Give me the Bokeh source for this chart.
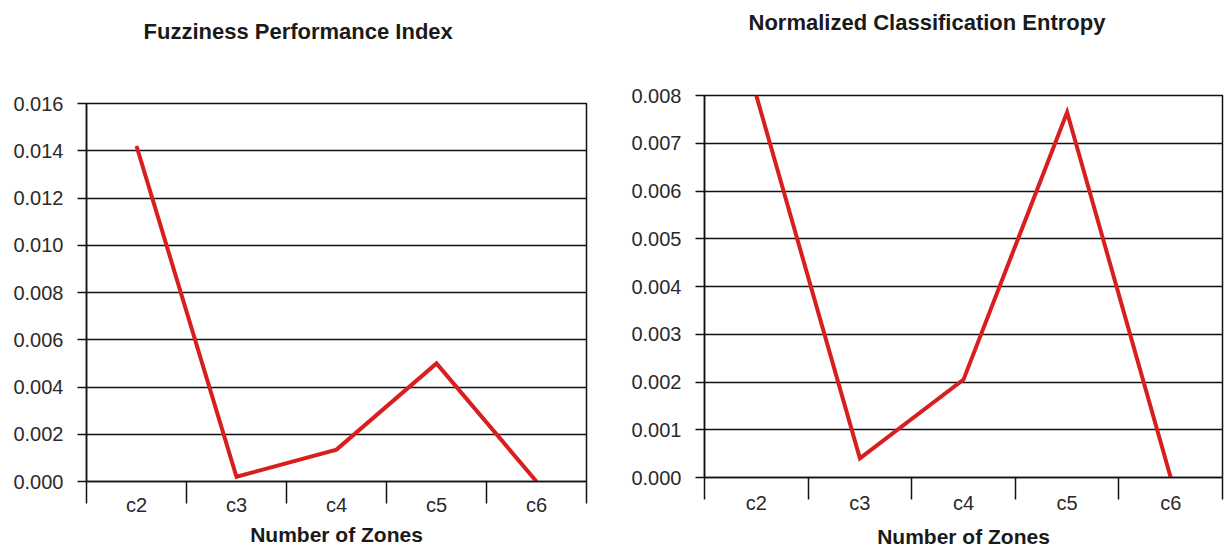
from bokeh.plotting import figure
from bokeh.models import FixedTicker, Range1d, PrintfTickFormatter, Title
from bokeh.embed import file_html
from bokeh.resources import INLINE

# ---- data ----
zones = ["c2", "c3", "c4", "c5", "c6"]
fpi_values = [0.0142, 0.0002, 0.00135, 0.0050, 0.0]
nce_values = [0.0080, 0.0004, 0.00205, 0.00765, 0.0]
fpi_ticks = [0.000, 0.002, 0.004, 0.006, 0.008, 0.010, 0.012, 0.014, 0.016]
nce_ticks = [0.000, 0.001, 0.002, 0.003, 0.004, 0.005, 0.006, 0.007, 0.008]
fpi_title = "Fuzziness Performance Index"
nce_title = "Normalized Classification Entropy"
x_title = "Number of Zones"

FONT = "Liberation Sans"
RED = "#d81e1e"
INK = "#111111"


def make_chart(title, values, yticks, width, height, mb_left, mb_right,
               mb_top, mb_bottom, title_offset, title_gap, xlab_standoff,
               xtitle_standoff, left_px):
    n = len(zones)
    centers = [i + 0.5 for i in range(n)]
    bounds = [float(i) for i in range(n + 1)]
    p = figure(width=width, height=height, output_backend="svg",
               toolbar_location=None,
               x_range=Range1d(0, n), y_range=Range1d(yticks[0], yticks[-1]),
               min_border_left=mb_left, min_border_right=mb_right,
               min_border_top=mb_top, min_border_bottom=mb_bottom)
    p.styles = {"position": "absolute", "left": f"{left_px}px", "top": "0px"}
    p.background_fill_color = "white"
    p.border_fill_color = "white"
    p.outline_line_color = INK
    p.outline_line_width = 1.5

    # spacer between frame and title, then the title itself
    p.add_layout(Title(text=" ", text_font_size="1px", standoff=title_gap),
                 "above")
    p.add_layout(Title(text=title, align="left", offset=title_offset,
                       standoff=10, text_font=FONT, text_font_size="22px",
                       text_font_style="bold", text_color="#1a1a1a"),
                 "above")

    p.line(centers, values, line_color=RED, line_width=4,
           line_join="miter")

    # x axis: labels at band centres, tick marks at band boundaries
    xa = p.xaxis[0]
    xa.ticker = FixedTicker(ticks=centers, minor_ticks=bounds)
    xa.major_label_overrides = {c: z for c, z in zip(centers, zones)}
    xa.major_tick_line_color = None
    xa.major_tick_out = 0
    xa.major_tick_in = 0
    xa.minor_tick_out = 22
    xa.minor_tick_in = 0
    xa.minor_tick_line_color = INK
    xa.minor_tick_line_width = 1.5
    xa.axis_line_color = INK
    xa.axis_line_width = 1.5
    xa.major_label_standoff = xlab_standoff
    xa.major_label_text_font = FONT
    xa.major_label_text_font_size = "20px"
    xa.major_label_text_color = "#2a2a2a"
    xa.axis_label = x_title
    xa.axis_label_text_font = FONT
    xa.axis_label_text_font_size = "21px"
    xa.axis_label_text_font_style = "bold"
    xa.axis_label_text_color = "#1a1a1a"
    xa.axis_label_standoff = xtitle_standoff

    ya = p.yaxis[0]
    ya.ticker = FixedTicker(ticks=yticks, minor_ticks=[])
    ya.formatter = PrintfTickFormatter(format="%.3f")
    ya.major_tick_out = 9
    ya.major_tick_in = 0
    ya.major_tick_line_color = INK
    ya.major_tick_line_width = 1.5
    ya.minor_tick_line_color = None
    ya.axis_line_color = INK
    ya.axis_line_width = 1.5
    ya.major_label_standoff = 14
    ya.major_label_text_font = FONT
    ya.major_label_text_font_size = "20px"
    ya.major_label_text_color = "#2a2a2a"

    p.xgrid.grid_line_color = None
    p.ygrid.ticker = FixedTicker(ticks=yticks)
    p.ygrid.grid_line_color = INK
    p.ygrid.grid_line_width = 1.5
    return p


left = make_chart(fpi_title, fpi_values, fpi_ticks, 600, 550,
                  86, 14, 103, 69, 57, 52, -10, 4, 0)
right = make_chart(nce_title, nce_values, nce_ticks, 624, 550,
                   104, 2, 95, 73, 44, 53, -8, 8, 600)

open("out.html", "w").write(file_html([left, right], INLINE))
